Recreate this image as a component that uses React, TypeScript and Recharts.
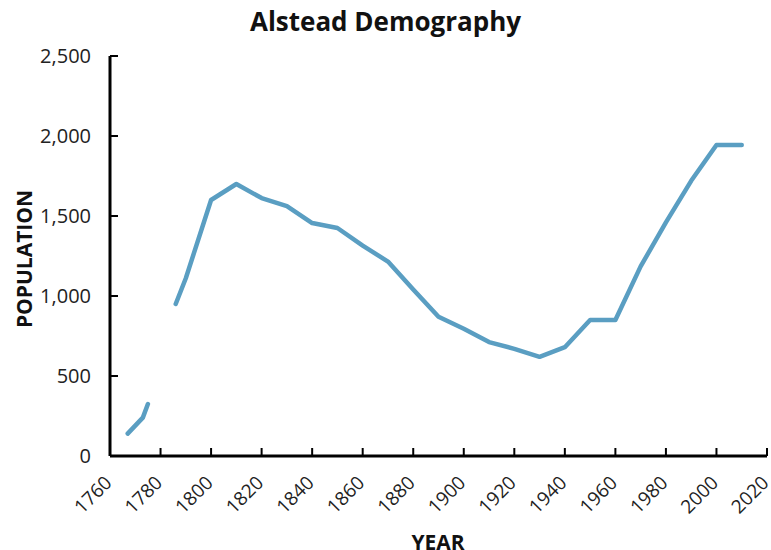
import { LineChart, Line, XAxis, YAxis } from 'recharts';

// census years; the null entry at 1780 breaks the line like the source
const years = [1767, 1773, 1775, 1780, 1786, 1790, 1800, 1810, 1820, 1830, 1840, 1850, 1860, 1870, 1880, 1890, 1900, 1910, 1920, 1930, 1940, 1950, 1960, 1970, 1980, 1990, 2000, 2010];
const population: (number | null)[] = [140, 240, 325, null, 950, 1111, 1600, 1700, 1612, 1562, 1456, 1425, 1315, 1215, 1040, 870, 795, 712, 670, 620, 680, 850, 850, 1185, 1460, 1720, 1944, 1944];
const yearTicks = [1760, 1780, 1800, 1820, 1840, 1860, 1880, 1900, 1920, 1940, 1960, 1980, 2000, 2020];
const popTicks = [0, 500, 1000, 1500, 2000, 2500];

const data = years.map((year, i) => ({ year, population: population[i] }));

const font = '"Open Sans", "DejaVu Sans", sans-serif';

const YearTick = ({ x, y, payload }: any) => (
  <g transform={`translate(${x + 3},${y})`}>
    <text
      x={0}
      y={0}
      textAnchor='end'
      transform='rotate(-45)'
      fontSize={19}
      fontFamily={font}
      fill='#222'
    >
      {payload.value}
    </text>
  </g>
);

const App = () => {
  return (
    <div
      style={{
        position: 'absolute',
        left: 0,
        top: 0,
        width: 771,
        height: 550,
        overflow: 'hidden',
        background: '#fff',
        fontFamily: font,
      }}
    >
      <div
        style={{
          position: 'absolute',
          top: 3,
          left: 0,
          width: 771,
          textAlign: 'center',
          fontSize: 26,
          fontWeight: 700,
          color: '#111',
        }}
      >
        Alstead Demography
      </div>
      <div
        style={{
          position: 'absolute',
          left: 24,
          top: 259,
          transform: 'translate(-50%, -50%) rotate(-90deg)',
          fontSize: 21,
          fontWeight: 700,
          color: '#111',
          whiteSpace: 'nowrap',
        }}
      >
        POPULATION
      </div>
      <div
        style={{
          position: 'absolute',
          left: 438,
          top: 528,
          transform: 'translateX(-50%)',
          fontSize: 21,
          fontWeight: 700,
          color: '#111',
        }}
      >
        YEAR
      </div>
      <LineChart
        width={771}
        height={550}
        data={data}
        margin={{ top: 56, right: 4, left: 0, bottom: 0 }}
      >
        <XAxis
          dataKey='year'
          type='number'
          domain={[1760, 2020]}
          ticks={yearTicks}
          interval={0}
          height={94}
          axisLine={{ stroke: '#000', strokeWidth: 3 }}
          tickLine={{ stroke: '#000', strokeWidth: 2 }}
          tickSize={-8}
          tickMargin={36}
          tick={<YearTick />}
        />
        <YAxis
          type='number'
          domain={[0, 2500]}
          ticks={popTicks}
          interval={0}
          width={110}
          axisLine={{ stroke: '#000', strokeWidth: 3 }}
          tickLine={{ stroke: '#000', strokeWidth: 2 }}
          tickSize={-8}
          tickMargin={27}
          tickFormatter={(v: number) => v.toLocaleString('en-US')}
          tick={{ fontSize: 20, fontFamily: font, fill: '#222' }}
        />
        <Line
          type='linear'
          dataKey='population'
          stroke='#5a9ec2'
          strokeWidth={4.5}
          strokeLinecap='round'
          strokeLinejoin='round'
          dot={false}
          connectNulls={false}
          isAnimationActive={false}
        />
      </LineChart>
    </div>
  );
};

export default App;
